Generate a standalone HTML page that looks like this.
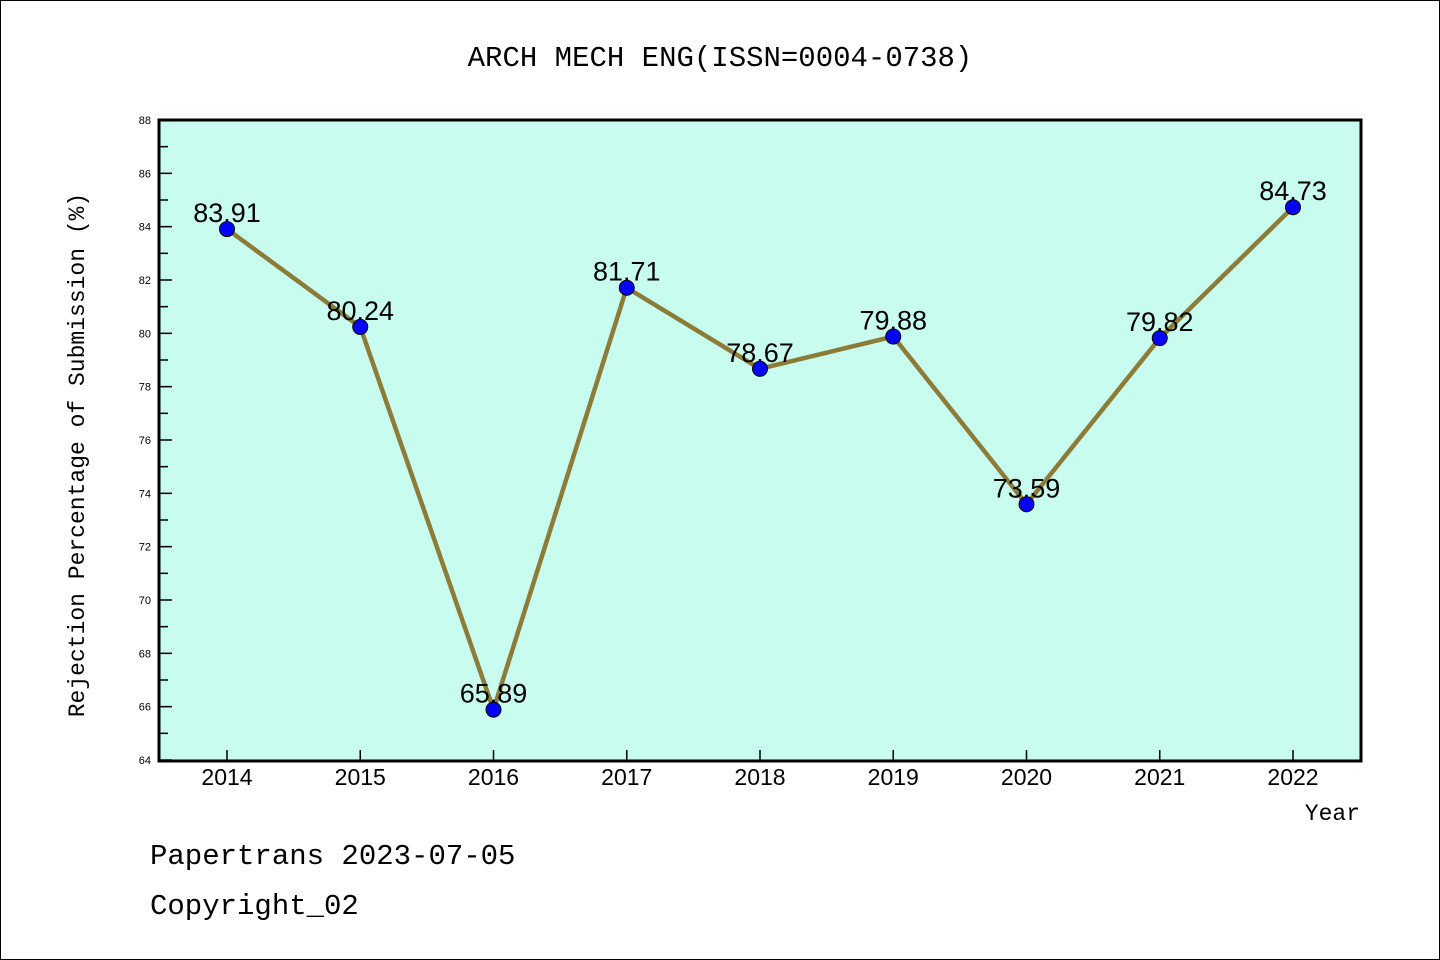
<!DOCTYPE html>
<html><head><meta charset="utf-8"><style>
body{margin:0;background:#fff}
svg{display:block}
text{font-family:"Liberation Sans","WenQuanYi Zen Hei",sans-serif}
.mono{font-family:"Liberation Mono","WenQuanYi Zen Hei",monospace}
</style></head><body>
<svg id="chart" width="1440" height="960" viewBox="0 0 1440 960">
<rect x="0.5" y="0.5" width="1439" height="959" fill="#fff" stroke="#000"/>
<text class="mono" x="720" y="66" text-anchor="middle" font-size="29">ARCH MECH ENG(ISSN=0004-0738)</text>
<rect x="159" y="120" width="1202" height="641" fill="#c8fcee"/>
<g id="axes"></g>
<g id="series"></g>
<rect x="159" y="120" width="1202" height="641" fill="none" stroke="#000" stroke-width="3"/>
<text class="mono" transform="translate(84,455) rotate(-90)" text-anchor="middle" font-size="23">Rejection Percentage of Submission (%)</text>
<text class="mono" x="1360" y="820" text-anchor="end" font-size="23">Year</text>
<text class="mono" x="150" y="864" font-size="29">Papertrans 2023-07-05</text>
<text class="mono" x="150" y="914" font-size="29">Copyright_02</text>
</svg>
<script>
const years=[2014,2015,2016,2017,2018,2019,2020,2021,2022];
const values=[83.91,80.24,65.89,81.71,78.67,79.88,73.59,79.82,84.73];
const yTicks=[64,66,68,70,72,74,76,78,80,82,84,86,88];
const NS="http://www.w3.org/2000/svg";
const X0=159,X1=1361,Y0=760,Y1=120;
function xs(i){return 227+i*(1293-227)/(years.length-1);}
function ys(v){return Y0-(v-64)*(Y0-Y1)/(88-64);}
function mk(t,a){const e=document.createElementNS(NS,t);for(const k in a)e.setAttribute(k,a[k]);return e;}
const ax=document.getElementById('axes'),se=document.getElementById('series');
yTicks.forEach((v,i)=>{
 const y=ys(v);
 const t=mk('line',{x1:X0,x2:X0+13,y1:y,y2:y,stroke:'#000','stroke-width':1.5});
 
 
 ax.appendChild(t);
 const l=mk('text',{x:151,y:y+4,'text-anchor':'end','font-size':11});
 l.textContent=v;
 
 
 ax.appendChild(l);
 if(i<yTicks.length-1){
  const ym=ys(v+1);
  const m=mk('line',{x1:X0,x2:X0+9,y1:ym,y2:ym,stroke:'#000','stroke-width':1.5});
  
  
  ax.appendChild(m);
 }
});
years.forEach((yr,i)=>{
 const x=xs(i);
 const t=mk('line',{x1:x,x2:x,y1:Y0,y2:Y0-10,stroke:'#000','stroke-width':1.5});
 
 
 ax.appendChild(t);
 const l=mk('text',{x:x,y:785,'text-anchor':'middle','font-size':23});
 l.textContent=yr;
 
 
 ax.appendChild(l);
});
const pts=values.map((v,i)=>xs(i)+','+ys(v)).join(' ');
const pl=mk('polyline',{points:pts,fill:'none',stroke:'#8c7c38','stroke-width':4.5,'stroke-linejoin':'round'});


se.appendChild(pl);
values.forEach((v,i)=>{
 const c=mk('circle',{cx:xs(i),cy:ys(v),r:7.5,fill:'#0000ff',stroke:'#000','stroke-width':1});
 
 
 se.appendChild(c);
 const l=mk('text',{x:xs(i),y:ys(v)-7,'text-anchor':'middle','font-size':27});
 l.textContent=v.toFixed(2);
 
 
 se.appendChild(l);
});
</script>
</body></html>
